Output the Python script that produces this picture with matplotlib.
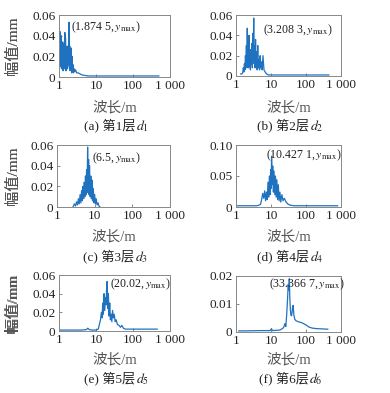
import numpy as np
import matplotlib.pyplot as plt

plt.rcParams['font.family'] = ['Liberation Serif', 'Noto Sans CJK SC']
plt.rcParams['mathtext.fontset'] = 'stix'
plt.rcParams['font.size'] = 9.5

# ---- data (wavelength in m, amplitude in mm) ----
a_x = [1.00, 1.02, 1.04, 1.06, 1.08, 1.10, 1.12, 1.14, 1.17, 1.20, 1.23, 1.26, 1.29, 1.32,
       1.35, 1.38, 1.41, 1.44, 1.47, 1.50, 1.54, 1.58, 1.62, 1.66, 1.70, 1.74, 1.78, 1.82,
       1.87, 1.91, 1.95, 2.00, 2.05, 2.10, 2.15, 2.20, 2.26, 2.32, 2.38, 2.45, 2.55, 2.65,
       2.80, 3.0, 3.3, 3.7, 4.2, 5.0, 6.0, 8.0, 12, 20, 50, 100, 200, 500]
a_y = [0.015, 0.048, 0.012, 0.044, 0.010, 0.036, 0.014, 0.040, 0.008, 0.030, 0.012, 0.034,
       0.006, 0.026, 0.014, 0.032, 0.008, 0.043, 0.012, 0.038, 0.006, 0.024, 0.010, 0.030,
       0.008, 0.028, 0.012, 0.022, 0.053, 0.010, 0.030, 0.006, 0.026, 0.010, 0.028, 0.004,
       0.020, 0.006, 0.012, 0.004, 0.008, 0.005, 0.007, 0.004, 0.004, 0.003, 0.002, 0.0015,
       0.001, 0.001, 0.001, 0.001, 0.001, 0.001, 0.001, 0.001]

b_x = [1.36, 1.45, 1.55, 1.62, 1.68, 1.74, 1.80, 1.86, 1.92, 1.98, 2.04, 2.10, 2.16, 2.22,
       2.28, 2.35, 2.42, 2.50, 2.58, 2.66, 2.75, 2.84, 2.93, 3.02, 3.11, 3.21, 3.30, 3.40,
       3.50, 3.62, 3.75, 3.88, 4.02, 4.18, 4.35, 4.52, 4.70, 4.90, 5.10, 5.35, 5.60, 5.90,
       6.3, 6.8, 7.5, 8.5, 10, 20, 50, 100, 200, 450]
b_y = [0.002, 0.002, 0.003, 0.008, 0.004, 0.012, 0.006, 0.020, 0.010, 0.030, 0.008, 0.047,
       0.012, 0.024, 0.008, 0.040, 0.010, 0.018, 0.006, 0.026, 0.012, 0.032, 0.008, 0.042,
       0.016, 0.057, 0.012, 0.030, 0.008, 0.036, 0.010, 0.024, 0.006, 0.030, 0.008, 0.016,
       0.006, 0.020, 0.008, 0.014, 0.006, 0.020, 0.006, 0.004, 0.002, 0.001, 0.001, 0.001,
       0.001, 0.001, 0.001, 0.001]

c_x = [2.65, 2.9, 3.1, 3.3, 3.5, 3.7, 3.9, 4.1, 4.3, 4.5, 4.7, 4.9, 5.1, 5.3, 5.5, 5.7,
       5.9, 6.1, 6.3, 6.5, 6.7, 6.9, 7.1, 7.3, 7.6, 7.9, 8.2, 8.5, 8.8, 9.2, 9.6, 10.0,
       10.5, 11.0, 11.6, 12.3, 13.0, 13.8]
c_y = [0.000, 0.003, 0.001, 0.005, 0.002, 0.008, 0.003, 0.012, 0.004, 0.016, 0.006, 0.020,
       0.008, 0.024, 0.010, 0.030, 0.012, 0.036, 0.014, 0.058, 0.016, 0.046, 0.012, 0.040,
       0.010, 0.030, 0.008, 0.026, 0.006, 0.018, 0.004, 0.012, 0.003, 0.008, 0.002, 0.004,
       0.001, 0.000]

d_x = [1.0, 2.0, 4.0, 5.0, 5.4, 5.8, 6.2, 6.6, 7.0, 7.4, 7.8, 8.2, 8.6, 9.0, 9.4, 9.8,
       10.1, 10.4, 10.8, 11.2, 11.7, 12.2, 12.8, 13.4, 14.0, 14.7, 15.4, 16.2, 17.0, 18.0,
       19.0, 20.5, 22, 24, 27, 30, 35, 45, 70, 150, 400, 800]
d_y = [0.002, 0.002, 0.002, 0.004, 0.012, 0.022, 0.014, 0.026, 0.010, 0.024, 0.012, 0.040,
       0.016, 0.050, 0.020, 0.060, 0.030, 0.082, 0.036, 0.066, 0.024, 0.058, 0.020, 0.050,
       0.016, 0.044, 0.012, 0.036, 0.010, 0.024, 0.008, 0.020, 0.010, 0.014, 0.008, 0.005,
       0.003, 0.002, 0.002, 0.002, 0.002, 0.002]

e_x = [1.0, 2.0, 4.0, 5.5, 6.0, 6.6, 8.0, 10.0, 11.5, 12.5, 13.2, 14.0, 14.6, 15.2, 15.8,
       16.5, 17.2, 18.0, 18.8, 19.4, 20.0, 20.8, 21.6, 22.5, 23.5, 24.5, 25.5, 26.8, 28.0,
       29.5, 31.0, 33.0, 35.0, 38.0, 42.0, 46.0, 50.0, 55.0, 62.0, 75.0, 100, 200, 450]
e_y = [0.001, 0.001, 0.001, 0.0015, 0.003, 0.0015, 0.001, 0.001, 0.002, 0.008, 0.012, 0.020,
       0.014, 0.030, 0.018, 0.040, 0.022, 0.036, 0.028, 0.048, 0.053, 0.024, 0.040, 0.016,
       0.030, 0.012, 0.018, 0.010, 0.022, 0.014, 0.018, 0.010, 0.012, 0.007, 0.006, 0.004,
       0.006, 0.003, 0.002, 0.002, 0.002, 0.002, 0.002]

f_x = [1.2, 2.0, 5.0, 9.5, 10.3, 11.0, 14.0, 18.0, 21.0, 23.0, 25.0, 26.5, 28.0, 29.5,
       31.0, 32.3, 33.4, 34.5, 35.8, 37.0, 38.5, 40.0, 41.5, 43.0, 45.0, 48.0, 52.0, 57.0,
       63.0, 72.0, 85.0, 100, 120, 150, 200, 300, 420]
f_y = [0.0004, 0.0004, 0.0005, 0.0005, 0.0012, 0.0005, 0.0006, 0.0007, 0.0012, 0.0016,
       0.0030, 0.0020, 0.0060, 0.0110, 0.0170, 0.0150, 0.0190, 0.0120, 0.0080, 0.0060,
       0.0058, 0.0070, 0.0090, 0.0095, 0.0060, 0.0045, 0.0040, 0.0038, 0.0036, 0.0034,
       0.0030, 0.0025, 0.0018, 0.0014, 0.0012, 0.0011, 0.0010]

series = [a_x, a_y], [b_x, b_y], [c_x, c_y], [d_x, d_y], [e_x, e_y], [f_x, f_y]
peaks = ['1.874 5', '3.208 3', '6.5', '10.427 1', '20.02', '33.366 7']
y_tops = [0.06, 0.06, 0.06, 0.10, 0.06, 0.02]
y_ticks = [[0, 0.02, 0.04, 0.06], [0, 0.02, 0.04, 0.06], [0, 0.02, 0.04, 0.06],
           [0, 0.05, 0.10], [0, 0.02, 0.04, 0.06], [0, 0.01, 0.02]]
y_ticklabels = [['0', '0.02', '0.04', '0.06'], ['0', '0.02', '0.04', '0.06'],
                ['0', '0.02', '0.04', '0.06'], ['0', '0.05', '0.10'],
                ['0', '0.02', '0.04', '0.06'], ['0', '0.01', '0.02']]
cap_letters = ['a', 'b', 'c', 'd', 'e', 'f']
# annotation anchor (x in m, y in mm)
ann_pos = [(2.05, 0.0485), (5.9, 0.045), (8.4, 0.047), (7.2, 0.084), (23.5, 0.050), (8.8, 0.0172)]

# axes boxes in pixels: left, top, right, bottom
W, H = 390, 393
boxes = [(59, 15, 170, 77), (236, 15, 341, 76),
         (57, 145, 170, 207), (236, 145, 341, 207),
         (59, 275, 170, 331), (236, 276, 341, 332)]
xlabel_y = [108, 108, 237, 237, 360, 360]
caption_y = [125, 125, 256, 256, 378, 378]

fig = plt.figure(figsize=(W / 100, H / 100), dpi=100)
line_color = '#1f72c0'
txt = '#222222'
cjk = ['Liberation Serif', 'Noto Sans CJK SC']

for i, (l, t, r, b) in enumerate(boxes):
    ax = fig.add_axes([l / W, 1 - b / H, (r - l) / W, (b - t) / H])
    x, y = series[i]
    ax.plot(x, y, color=line_color, lw=0.9)
    ax.set_xscale('log')
    ax.set_xlim(1, 1000)
    ax.set_ylim(0, y_tops[i])
    ax.set_xticks([1, 10, 100, 1000])
    ax.set_xticklabels(['1', '10', '100', '1 000'])
    ax.xaxis.set_minor_locator(plt.NullLocator())
    ax.set_yticks(y_ticks[i])
    ax.set_yticklabels(y_ticklabels[i])
    ax.tick_params(direction='in', length=2.5, width=0.6, colors='#777777',
                   labelcolor=txt, labelsize=9.5, pad=2.5)
    for s in ax.spines.values():
        s.set_color('#888888')
        s.set_linewidth(0.7)
    ax.set_ylabel('幅值/mm', fontsize=11, color='#555555', family=cjk)
    ax.yaxis.set_label_coords((20 - l) / (r - l), 0.5)
    ax.text(ann_pos[i][0], ann_pos[i][1], '(' + peaks[i] + ',$\\,y_{\\mathrm{max}}$)',
            fontsize=8.6, color=txt, va='center', ha='left')
    cx = (l + r) / 2 / W
    fig.text(cx, 1 - xlabel_y[i] / H, '波长/m', ha='center', va='center', fontsize=10.5,
             color='#555555', family=cjk)
    t1 = fig.text(cx - 5 / W, 1 - caption_y[i] / H, '(' + cap_letters[i] + ') 第' + str(i + 1) + '层',
                  ha='center', va='center', fontsize=9.5, color=txt, family=cjk)
    ax.annotate('$d_{' + str(i + 1) + '}$', xy=(1, 0), xycoords=t1, xytext=(0.5, 1.6),
                textcoords='offset points', fontsize=10, color=txt, va='baseline', ha='left',
                annotation_clip=False)

fig.savefig('out.png', dpi=100, facecolor='white')
